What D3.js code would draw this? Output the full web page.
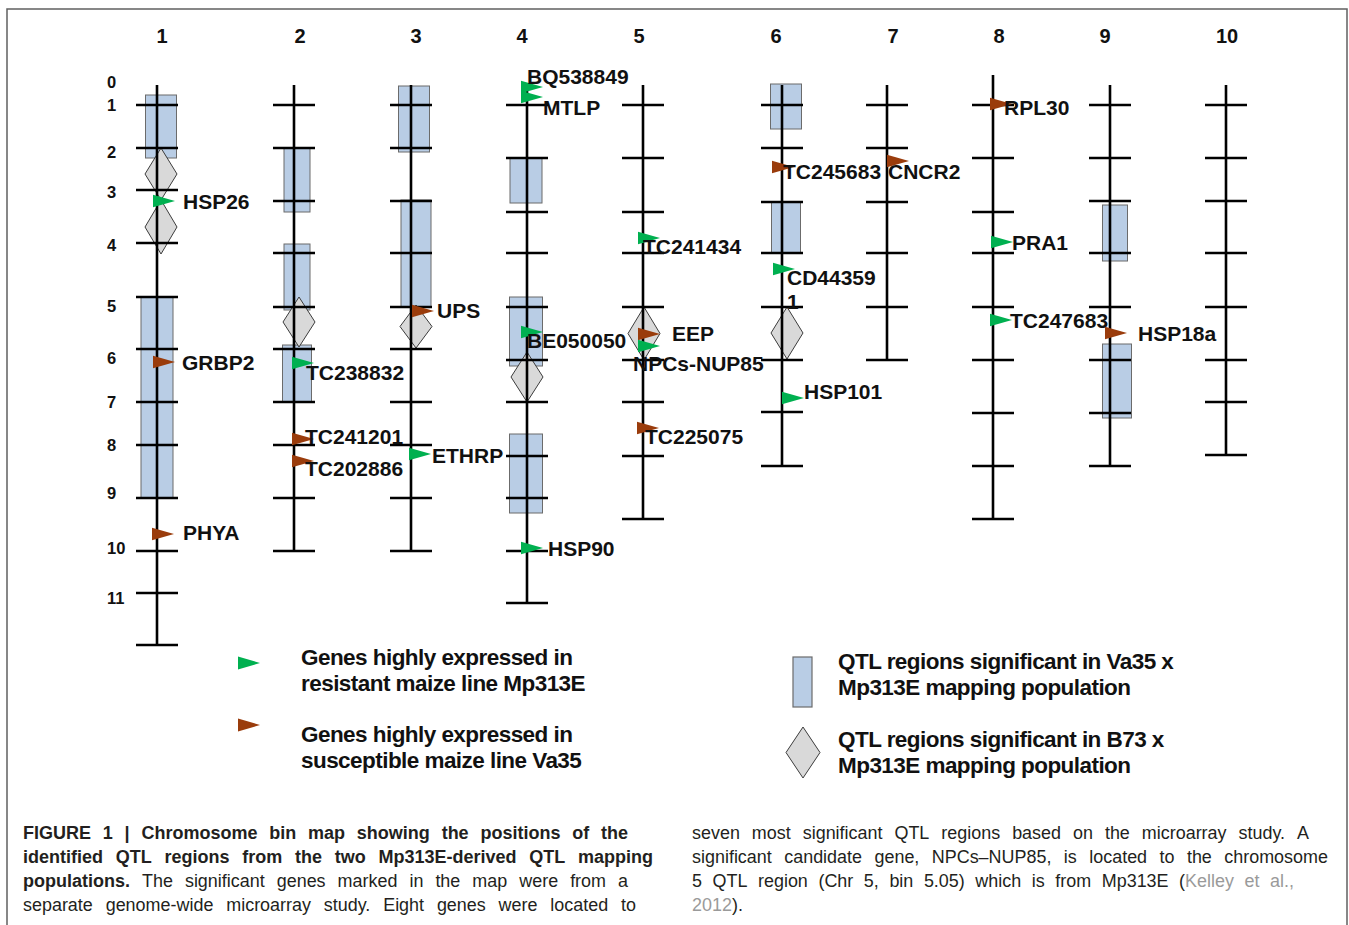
<!DOCTYPE html>
<html>
<head>
<meta charset="utf-8">
<script src="https://cdn.jsdelivr.net/npm/d3@7"></script>
<style>
  html, body { margin: 0; padding: 0; background: #fff; }
  svg { display: block; font-family: "Liberation Sans", Arial, sans-serif; }
</style>
</head>
<body>
<svg id="map" width="1349" height="925"></svg>
<script>
// ---- Chromosomes and their bin boundaries (map units, 0 = top of map) ----
const chromosomes = ['1', '2', '3', '4', '5', '6', '7', '8', '9', '10'];
const chromTop = [0.60, 0.60, 0.60, 0.60, 0.60, 0.60, 0.60, 0.40, 0.60, 0.60];
const binTicks = [
  [1.00, 1.86, 2.70, 3.76, 4.84, 5.88, 6.94, 7.80, 8.86, 9.92, 10.76, 11.80],
  [1.00, 1.86, 2.92, 3.96, 5.04, 5.88, 6.94, 7.80, 8.86, 9.92],
  [1.00, 1.86, 2.92, 3.96, 5.04, 5.88, 6.94, 7.80, 8.86, 9.92],
  [1.00, 2.06, 3.14, 3.96, 5.04, 6.10, 6.94, 8.02, 8.86, 9.92, 10.96],
  [1.00, 2.06, 3.14, 3.96, 5.04, 6.10, 6.94, 8.02, 9.28],
  [1.00, 1.86, 2.94, 3.96, 5.04, 6.10, 7.14, 8.22],
  [1.00, 1.86, 2.94, 3.96, 5.04, 6.10],
  [1.00, 2.06, 3.14, 3.96, 5.04, 6.10, 7.16, 8.22, 9.28],
  [1.00, 2.06, 2.92, 3.96, 5.04, 6.10, 7.16, 8.22],
  [1.00, 2.06, 2.92, 3.96, 5.04, 6.10, 6.94, 8.00]
];

// Bin numbers printed beside chromosome 1
const binLabels = ['0', '1', '2', '3', '4', '5', '6', '7', '8', '9', '10', '11'];
const binLabelPos = [0.54, 1.00, 1.94, 2.74, 3.80, 5.02, 6.06, 6.94, 7.80, 8.76, 9.86, 10.86];

// ---- QTL regions, Va35 x Mp313E (boxes) ----
const vaQtlChrom = ['1', '1', '2', '2', '2', '3', '3', '4', '4', '4', '6', '6', '9', '9'];
const vaQtlStart = [0.80, 4.84, 1.86, 3.78, 5.80, 0.62, 2.90, 2.06, 4.84, 7.58, 0.58, 2.94, 3.00, 5.78];
const vaQtlEnd   = [2.06, 8.86, 3.14, 5.10, 6.94, 1.94, 5.04, 2.96, 6.22, 9.16, 1.48, 3.96, 4.12, 7.26];

// ---- QTL regions, B73 x Mp313E (diamonds) ----
const b73QtlChrom = ['1', '1', '2', '3', '4', '5', '6'];
const b73QtlStart = [1.86, 2.90, 4.84, 5.00, 5.94, 5.04, 5.04];
const b73QtlEnd   = [2.90, 3.98, 5.84, 5.86, 6.94, 6.10, 6.08];

// ---- Genes from the microarray study ----
const geneNames = ['HSP26', 'GRBP2', 'PHYA', 'TC238832', 'TC241201', 'TC202886', 'UPS', 'ETHRP',
  'BQ538849', 'MTLP', 'BE050050', 'HSP90', 'TC241434', 'EEP', 'NPCs-NUP85', 'TC225075',
  'TC245683', 'CD443591', 'HSP101', 'CNCR2', 'RPL30', 'PRA1', 'TC247683', 'HSP18a'];
const geneChrom = ['1', '1', '1', '2', '2', '2', '3', '3', '4', '4', '4', '4', '5', '5', '5', '5',
  '6', '6', '6', '7', '8', '8', '8', '9'];
const genePos = [2.92, 6.14, 9.58, 6.16, 7.68, 8.12, 5.12, 7.98, 0.64, 0.84, 5.54, 9.86,
  3.66, 5.58, 5.82, 7.46, 2.24, 4.28, 6.86, 2.12, 0.98, 3.74, 5.30, 5.56];
// line in which the gene is highly expressed
const geneLine = ['Mp313E', 'Va35', 'Va35', 'Mp313E', 'Va35', 'Va35', 'Va35', 'Mp313E',
  'Mp313E', 'Mp313E', 'Mp313E', 'Mp313E', 'Mp313E', 'Va35', 'Mp313E', 'Va35',
  'Va35', 'Mp313E', 'Mp313E', 'Va35', 'Va35', 'Mp313E', 'Mp313E', 'Va35'];

// ---- Legend and caption text ----
const legendGeneText = [
  ['Genes highly expressed in', 'resistant maize line Mp313E'],
  ['Genes highly expressed in', 'susceptible maize line Va35']
];
const legendQtlText = [
  ['QTL regions significant in Va35 x', 'Mp313E mapping population'],
  ['QTL regions significant in B73 x', 'Mp313E mapping population']
];

// ---------------------------------------------------------------------------
const INK = '#000';
const GREEN = '#00b050';
const BROWN = '#9a3c0c';
const BOX_FILL = '#b9cde5';
const BOX_STROKE = '#6b6b6b';
const DIA_FILL = '#d9d9d9';
const DIA_STROKE = '#3c3c3c';

const svg = d3.select('#map');

// Horizontal placement of each chromosome and of its number
const x = d3.scaleOrdinal()
  .domain(chromosomes)
  .range([157, 294, 411, 527, 643, 782, 887, 993, 1110, 1226]);
const xNum = d3.scaleOrdinal()
  .domain(chromosomes)
  .range([162, 300, 416, 522, 639, 776, 893, 999, 1105, 1227]);
// Vertical map scale
const y = d3.scaleLinear().domain([0, 12]).range([55, 655]);

// Figure frame
svg.append('path')
  .attr('d', 'M7,925 V9 H1347 V925')
  .attr('fill', 'none').attr('stroke', '#606060').attr('stroke-width', 1.5);

// Chromosome numbers
svg.append('g').selectAll('text').data(chromosomes).join('text')
  .attr('x', d => xNum(d))
  .attr('y', 36)
  .attr('text-anchor', 'middle')
  .attr('dominant-baseline', 'central')
  .attr('font-size', 20).attr('font-weight', 'bold').attr('fill', '#111')
  .text(d => d);

// Bin numbers
svg.append('g').selectAll('text').data(binLabels).join('text')
  .attr('x', 107)
  .attr('y', (d, i) => y(binLabelPos[i]))
  .attr('dominant-baseline', 'central')
  .attr('font-size', 16.5).attr('font-weight', 'bold').attr('fill', '#111')
  .text(d => d);

// QTL boxes (drawn under the chromosome lines)
const boxDx = [4, 0, 3, 3, 3, 3, 5, -1, -1, -1, 4, 4, 5, 7];
const boxW = [31, 32, 26, 26, 29, 31, 30, 32, 33, 33, 31, 29, 25, 29];
svg.append('g').selectAll('rect').data(vaQtlChrom).join('rect')
  .attr('x', (c, i) => x(c) + boxDx[i] - boxW[i] / 2)
  .attr('width', (c, i) => boxW[i])
  .attr('y', (c, i) => y(vaQtlStart[i]))
  .attr('height', (c, i) => y(vaQtlEnd[i]) - y(vaQtlStart[i]))
  .attr('fill', BOX_FILL).attr('stroke', BOX_STROKE).attr('stroke-width', 1);

// QTL diamonds
const diaDx = [4, 4, 5, 5, 0, 1, 5];
const diaHalfW = 16;
svg.append('g').selectAll('path').data(b73QtlChrom).join('path')
  .attr('d', (c, i) => {
    const cx = x(c) + diaDx[i];
    const y0 = y(b73QtlStart[i]), y1 = y(b73QtlEnd[i]), ym = (y0 + y1) / 2;
    return `M${cx},${y0} L${cx + diaHalfW},${ym} L${cx},${y1} L${cx - diaHalfW},${ym} Z`;
  })
  .attr('fill', DIA_FILL).attr('stroke', DIA_STROKE).attr('stroke-width', 1);

// Chromosome lines with bin ticks
const chromG = svg.append('g').selectAll('g').data(chromosomes).join('g');
chromG.append('line')
  .attr('x1', d => x(d)).attr('x2', d => x(d))
  .attr('y1', (d, i) => y(chromTop[i]))
  .attr('y2', (d, i) => y(binTicks[i][binTicks[i].length - 1]))
  .attr('stroke', INK).attr('stroke-width', 2.6);
chromG.each(function (d, i) {
  d3.select(this).selectAll('line.tick').data(binTicks[i]).join('line')
    .attr('class', 'tick')
    .attr('x1', x(d) - 21).attr('x2', x(d) + 21)
    .attr('y1', v => y(v)).attr('y2', v => y(v))
    .attr('stroke', INK).attr('stroke-width', 2.6);
});

// Gene flags and names
const flag = (w, h) => `M0,${-h / 2} L${w},0 L0,${h / 2} Z`;
const markDx = {
  'HSP26': -4, 'GRBP2': -4, 'PHYA': -5, 'TC238832': -2, 'TC241201': -2, 'TC202886': -2,
  'UPS': 1, 'ETHRP': -2, 'BQ538849': -6, 'MTLP': -6, 'BE050050': -6, 'HSP90': -6,
  'TC241434': -5, 'EEP': -5, 'NPCs-NUP85': -5, 'TC225075': -6, 'TC245683': -10,
  'CD443591': -9, 'HSP101': 0, 'CNCR2': 0, 'RPL30': -3, 'PRA1': -2, 'TC247683': -3, 'HSP18a': -5
};
const labelOff = {
  'HSP26': [26, 0], 'GRBP2': [25, 0], 'PHYA': [26, -2], 'TC238832': [12, 9],
  'TC241201': [11, -3], 'TC202886': [11, 7], 'UPS': [26, -1], 'ETHRP': [21, 1],
  'BQ538849': [0, -11], 'MTLP': [16, 10], 'BE050050': [0, 8], 'HSP90': [21, 0],
  'TC241434': [0, 8], 'EEP': [29, -1], 'NPCs-NUP85': [-10, 17], 'TC225075': [2, 8],
  'TC245683': [1, 4], 'CD443591': [5, 8], 'HSP101': [22, -7], 'CNCR2': [1, 10],
  'RPL30': [11, 3], 'PRA1': [19, 0], 'TC247683': [17, 0], 'HSP18a': [28, 0]
};
const geneG = svg.append('g').selectAll('g').data(geneNames).join('g');
geneG.append('path')
  .attr('d', flag(22, 12.5))
  .attr('transform', (n, i) => `translate(${x(geneChrom[i]) + markDx[n]},${y(genePos[i])})`)
  .attr('fill', (n, i) => geneLine[i] === 'Mp313E' ? GREEN : BROWN);
geneG.append('text')
  .attr('x', (n, i) => x(geneChrom[i]) + labelOff[n][0])
  .attr('y', (n, i) => y(genePos[i]) + labelOff[n][1])
  .attr('dominant-baseline', 'central')
  .attr('font-size', 21).attr('font-weight', 'bold').attr('fill', '#111')
  .each(function (n) {
    const t = d3.select(this);
    if (n === 'CD443591') {
      // long accession wraps onto a second line
      t.append('tspan').text('CD44359');
      t.append('tspan').attr('x', t.attr('x')).attr('dy', 24).text('1');
    } else {
      t.text(n);
    }
  });

// ---- Legend ----
const legend = svg.append('g');
const legendText = (tx, ty, s) => legend.append('text').attr('x', tx).attr('y', ty)
  .attr('dominant-baseline', 'central')
  .attr('font-size', 22.5).attr('font-weight', 'bold').attr('fill', '#111')
  .attr('letter-spacing', -0.55)
  .text(s);
[GREEN, BROWN].forEach((c, i) => {
  const ly = [663, 725][i];
  legend.append('path').attr('d', flag(22, 13)).attr('transform', `translate(238,${ly})`).attr('fill', c);
  legendGeneText[i].forEach((s, j) => legendText(301, [657, 734][i] + j * 26, s));
});
legend.append('rect').attr('x', 793).attr('y', 657).attr('width', 19).attr('height', 50)
  .attr('fill', BOX_FILL).attr('stroke', BOX_STROKE).attr('stroke-width', 1.2);
legend.append('path').attr('d', 'M803,727 L820,752.5 L803,778 L786,752.5 Z')
  .attr('fill', DIA_FILL).attr('stroke', DIA_STROKE).attr('stroke-width', 1);
legendQtlText.forEach((pair, i) => {
  pair.forEach((s, j) => legendText(838, [661, 739][i] + j * 26, s));
});

// ---- Caption (two justified columns) ----
const CAP_INK = '#231f20';
const CAP_GREY = '#9a9a9a';
const CAP_BOLD = { size: 18, sx: 1.0 };
const CAP_REG = { size: 18.5, sx: 0.97 };
const cap = svg.append('g');

function tokenize(segs) {
  const tokens = [];
  let cur = null;
  segs.forEach(s => {
    s.text.split(' ').forEach((p, i) => {
      if (i > 0 && cur) { tokens.push(cur); cur = null; }
      if (p) { (cur = cur || []).push({ t: p, bold: s.bold, color: s.color }); }
    });
  });
  if (cur) tokens.push(cur);
  return tokens;
}

// Lay out one caption line word by word; justified lines span x0..x1
function captionLine(segs, x0, x1, baseY, justify) {
  const tokens = tokenize(segs);
  const widths = [];
  const nodes = tokens.map(tok => {
    const st = tok[0].bold ? CAP_BOLD : CAP_REG;
    const t = cap.append('text').attr('font-size', st.size);
    tok.forEach(p => t.append('tspan')
      .attr('font-weight', p.bold ? 'bold' : 'normal')
      .attr('fill', p.color || CAP_INK)
      .text(p.t));
    widths.push(t.node().getComputedTextLength() * st.sx);
    return { t, sx: st.sx };
  });
  const total = d3.sum(widths);
  const gap = justify && tokens.length > 1 ? (x1 - x0 - total) / (tokens.length - 1) : 5;
  let cx = x0;
  nodes.forEach((n, i) => {
    n.t.attr('transform', `translate(${cx},${baseY}) scale(${n.sx},1)`);
    cx += widths[i] + gap;
  });
}

const capLeft = [
  [[{ text: 'FIGURE 1 | Chromosome bin map showing the positions of the', bold: true }], 628],
  [[{ text: 'identified QTL regions from the two Mp313E-derived QTL mapping', bold: true }], 653],
  [[{ text: 'populations.', bold: true }, { text: ' The significant genes marked in the map were from a' }], 628],
  [[{ text: 'separate genome-wide microarray study. Eight genes were located to' }], 636]
];
const capRight = [
  [[{ text: 'seven most significant QTL regions based on the microarray study. A' }], 1309, true],
  [[{ text: 'significant candidate gene, NPCs\u2013NUP85, is located to the chromosome' }], 1328, true],
  [[{ text: '5 QTL region (Chr 5, bin 5.05) which is from Mp313E (' }, { text: 'Kelley et al.,', color: CAP_GREY }], 1294, true],
  [[{ text: '2012', color: CAP_GREY }, { text: ').' }], 740, false]
];
const capBase = [839, 863, 887, 911];
capLeft.forEach((l, i) => captionLine(l[0], 23, l[1], capBase[i], true));
capRight.forEach((l, i) => captionLine(l[0], 692, l[1], capBase[i], l[2]));
</script>
</body>
</html>
